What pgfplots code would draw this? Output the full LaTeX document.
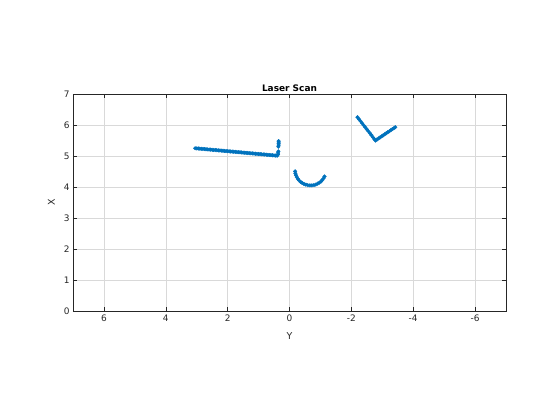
\documentclass[border=0pt]{standalone}
\usepackage{pgfplots}
\pgfplotsset{compat=1.18}
\usepackage{fontspec}
\setmainfont{DejaVu Sans}
\definecolor{mblue}{RGB}{0,114,189}
\definecolor{mgray}{RGB}{38,38,38}
\begin{document}
\begin{tikzpicture}[x=1bp,y=1bp]
\path[use as bounding box] (-73bp,-109bp) rectangle (487bp,311bp);
\begin{axis}[
  at={(0,0)}, anchor=south west,
  scale only axis, width=433bp, height=217bp,
  x dir=reverse,
  xmin=-7, xmax=7, ymin=0, ymax=7,
  xtick={-6,-4,...,6}, ytick={0,1,...,7},
  grid=major,
  major grid style={draw=black!15, line width=0.4pt},
  axis line style={draw=mgray, line width=0.5pt},
  tick style={draw=mgray, line width=0.5pt},
  tick align=inside, major tick length=4bp,
  xtick pos=both, ytick pos=both,
  ticklabel style={font=\fontsize{9}{10}\selectfont, text=mgray},
  /pgf/number format/assume math mode=true,
  label style={font=\fontsize{9.5}{11}\selectfont, text=mgray},
  xlabel={Y}, ylabel={X},
  xlabel style={yshift=-4bp},
  ylabel style={yshift=2bp},
  title={\textbf{Laser Scan}},
  title style={font=\fontsize{9}{10}\selectfont, yshift=-7bp},
]
\addplot[only marks, mark=*, mark size=1.8bp, mblue, mark options={draw=mblue, fill=mblue}] coordinates {
(3.05,5.25)(3.0,5.245)(2.95,5.241)(2.9,5.236)(2.85,5.232)(2.8,5.227)(2.75,5.223)(2.7,5.218)(2.65,5.214)(2.6,5.209)(2.55,5.205)(2.5,5.200)
(2.45,5.196)(2.4,5.191)(2.35,5.187)(2.3,5.182)(2.25,5.178)(2.2,5.173)(2.15,5.169)(2.1,5.164)(2.05,5.160)(2.0,5.155)
(1.95,5.151)(1.9,5.146)(1.85,5.142)(1.8,5.137)(1.75,5.133)(1.7,5.128)(1.65,5.124)(1.6,5.119)(1.55,5.115)(1.5,5.110)
(1.45,5.106)(1.4,5.101)(1.35,5.097)(1.3,5.092)(1.25,5.088)(1.2,5.083)(1.15,5.079)(1.1,5.074)(1.05,5.069)(1.0,5.064)
(0.95,5.060)(0.9,5.055)(0.85,5.051)(0.8,5.046)(0.75,5.042)(0.7,5.037)(0.65,5.033)(0.6,5.028)(0.55,5.024)(0.5,5.019)
(0.45,5.015)(0.4,5.010)
(0.37,5.05)(0.37,5.10)(0.36,5.15)(0.36,5.30)(0.35,5.35)(0.35,5.40)(0.35,5.45)(0.35,5.48)
};
\addplot[only marks, mark=*, mark size=1.8bp, mblue, mark options={draw=mblue, fill=mblue}] coordinates {
(-0.182,4.506)(-0.190,4.44)(-0.210,4.379)(-0.235,4.32)(-0.270,4.263)(-0.31,4.21)(-0.359,4.167)(-0.41,4.13)(-0.469,4.097)(-0.53,4.075)(-0.593,4.058)
(-0.66,4.052)(-0.724,4.052)(-0.79,4.062)(-0.851,4.080)(-0.91,4.107)(-0.967,4.140)(-1.02,4.18)(-1.063,4.229)(-1.10,4.28)(-1.133,4.339)
};
\addplot[only marks, mark=*, mark size=1.8bp, mblue, mark options={draw=mblue, fill=mblue}] coordinates {
(-2.20,6.25)(-2.25,6.185)(-2.30,6.12)(-2.35,6.055)(-2.40,5.99)(-2.45,5.925)(-2.50,5.86)(-2.55,5.80)(-2.60,5.735)(-2.65,5.67)(-2.70,5.60)(-2.75,5.54)(-2.78,5.50)
(-2.83,5.534)(-2.88,5.568)(-2.93,5.60)(-2.98,5.635)(-3.03,5.668)(-3.08,5.70)(-3.13,5.735)(-3.18,5.768)(-3.23,5.80)(-3.28,5.835)(-3.33,5.868)(-3.38,5.90)(-3.42,5.93)
};
\end{axis}
\end{tikzpicture}
\end{document}
